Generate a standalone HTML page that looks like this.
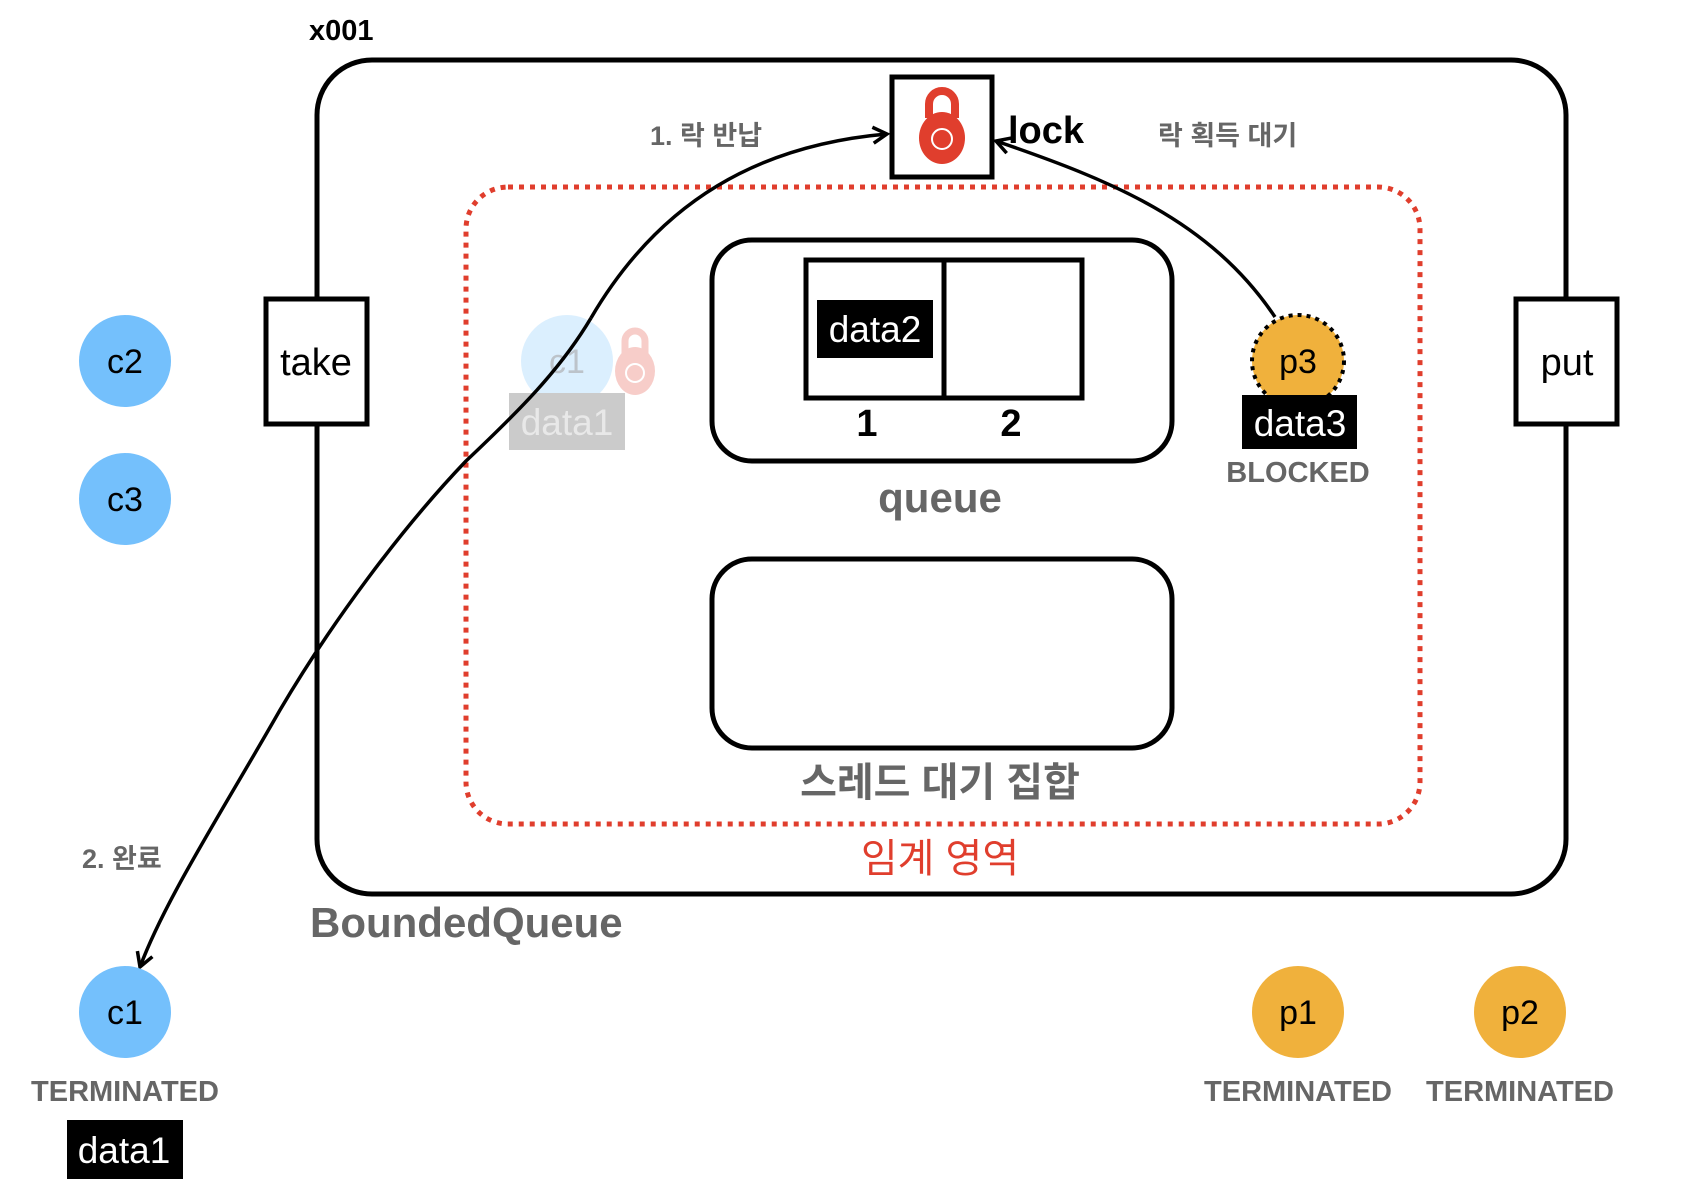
<!DOCTYPE html>
<html><head><meta charset="utf-8"><style>
html,body{margin:0;padding:0;background:#fff;}
svg{display:block;}
text{font-family:"Liberation Sans","Noto Sans CJK KR",sans-serif;font-weight:bold;}
</style></head><body>
<svg width="1700" height="1186" viewBox="0 0 1700 1186" xmlns="http://www.w3.org/2000/svg">
<defs>
<marker id="ah" markerWidth="20" markerHeight="20" refX="16" refY="10" orient="auto" markerUnits="userSpaceOnUse">
<path d="M2,2 L16,10 L2,18" fill="none" stroke="#000" stroke-width="3.5"/>
</marker>
</defs>
<text x="309" y="40" font-size="29" fill="#000">x001</text>
<rect x="317" y="60" width="1249" height="834" rx="55" fill="none" stroke="#000" stroke-width="5"/>
<rect x="466" y="187" width="954" height="637" rx="42" fill="none" stroke="#e03e2d" stroke-width="5" stroke-dasharray="5,6"/>
<rect x="266" y="299" width="101" height="125" fill="#fff" stroke="#000" stroke-width="5"/>
<text x="316" y="375" font-size="38" text-anchor="middle" style="font-weight:normal">take</text>
<rect x="1516" y="299" width="101" height="125" fill="#fff" stroke="#000" stroke-width="5"/>
<text x="1567" y="375" font-size="38" text-anchor="middle" style="font-weight:normal">put</text>
<rect x="892" y="77" width="100" height="100" fill="#fff" stroke="#000" stroke-width="5"/>
<path d="M929,118 v-14 a13,13 0 0 1 26,0 v14" fill="none" stroke="#e03e2d" stroke-width="8"/>
<ellipse cx="942" cy="138" rx="23" ry="26" fill="#e03e2d"/>
<circle cx="942" cy="139" r="10" fill="none" stroke="#fff" stroke-width="2"/>
<text x="1008" y="143" font-size="38" fill="#000">lock</text>
<text x="650" y="145" font-size="27" fill="#666">1. 락 반납</text>
<text x="1158" y="145" font-size="27" fill="#666">락 획득 대기</text>
<rect x="712" y="240" width="460" height="221" rx="40" fill="none" stroke="#000" stroke-width="5"/>
<rect x="806" y="260" width="276" height="138" fill="none" stroke="#000" stroke-width="5"/>
<line x1="944" y1="260" x2="944" y2="398" stroke="#000" stroke-width="5"/>
<rect x="817" y="300" width="116" height="58" fill="#000"/>
<text x="875" y="342" font-size="37" fill="#fff" text-anchor="middle" style="font-weight:normal">data2</text>
<text x="867" y="436" font-size="38" text-anchor="middle">1</text>
<text x="1011" y="436" font-size="38" text-anchor="middle">2</text>
<text x="940" y="512" font-size="42" fill="#666" text-anchor="middle">queue</text>
<rect x="712" y="559" width="460" height="189" rx="40" fill="none" stroke="#000" stroke-width="5"/>
<text x="940" y="796" font-size="40" fill="#666" text-anchor="middle">스레드 대기 집합</text>
<text x="940" y="872" font-size="40" fill="#e03e2d" text-anchor="middle" style="font-weight:normal">임계 영역</text>
<text x="310" y="937" font-size="42" fill="#666">BoundedQueue</text>
<circle cx="125" cy="361" r="46" fill="#74c0fc"/>
<text x="125" y="373" font-size="34" text-anchor="middle" style="font-weight:normal">c2</text>
<circle cx="125" cy="499" r="46" fill="#74c0fc"/>
<text x="125" y="511" font-size="34" text-anchor="middle" style="font-weight:normal">c3</text>
<g opacity="0.25">
<circle cx="567" cy="361" r="46" fill="#74c0fc"/>
<path d="M625,355 v-14 a10,10 0 0 1 20,0 v14" fill="none" stroke="#e03e2d" stroke-width="7"/>
<ellipse cx="635" cy="371" rx="20" ry="24" fill="#e03e2d"/>
<circle cx="635" cy="373" r="9" fill="none" stroke="#fff" stroke-width="2"/>
<rect x="509" y="393" width="116" height="57" fill="#333"/>
</g>
<text x="567" y="373" font-size="34" text-anchor="middle" fill="#bcc3ca" style="font-weight:normal">c1</text>
<text x="567" y="435" font-size="37" text-anchor="middle" fill="#e8e8e8" style="font-weight:normal">data1</text>
<circle cx="1298" cy="361" r="46" fill="#f0b13c" stroke="#000" stroke-width="4" stroke-dasharray="4,5"/>
<rect x="1242" y="395" width="115" height="54" fill="#000"/>
<text x="1298" y="373" font-size="34" text-anchor="middle" style="font-weight:normal">p3</text>
<text x="1300" y="436" font-size="37" fill="#fff" text-anchor="middle" style="font-weight:normal">data3</text>
<text x="1298" y="482" font-size="29" fill="#666" text-anchor="middle">BLOCKED</text>
<path d="M591,318 C660,200 760,145 887,134" fill="none" stroke="#000" stroke-width="3.5" marker-end="url(#ah)"/>
<path d="M591,318 C560,370 520,410 466,461 C400,530 330,625 280,710 C220,815 165,900 140,967" fill="none" stroke="#000" stroke-width="3.5" marker-end="url(#ah)"/>
<path d="M1275,317 C1210,220 1110,180 996,141" fill="none" stroke="#000" stroke-width="3.5" marker-end="url(#ah)"/>
<text x="82" y="868" font-size="27" fill="#666">2. 완료</text>
<circle cx="125" cy="1012" r="46" fill="#74c0fc"/>
<text x="125" y="1024" font-size="34" text-anchor="middle" style="font-weight:normal">c1</text>
<text x="125" y="1101" font-size="29" fill="#666" text-anchor="middle">TERMINATED</text>
<rect x="67" y="1120" width="116" height="59" fill="#000"/>
<text x="124" y="1163" font-size="37" fill="#fff" text-anchor="middle" style="font-weight:normal">data1</text>
<circle cx="1298" cy="1012" r="46" fill="#f0b13c"/>
<text x="1298" y="1024" font-size="34" text-anchor="middle" style="font-weight:normal">p1</text>
<text x="1298" y="1101" font-size="29" fill="#666" text-anchor="middle">TERMINATED</text>
<circle cx="1520" cy="1012" r="46" fill="#f0b13c"/>
<text x="1520" y="1024" font-size="34" text-anchor="middle" style="font-weight:normal">p2</text>
<text x="1520" y="1101" font-size="29" fill="#666" text-anchor="middle">TERMINATED</text>
</svg>
</body></html>
